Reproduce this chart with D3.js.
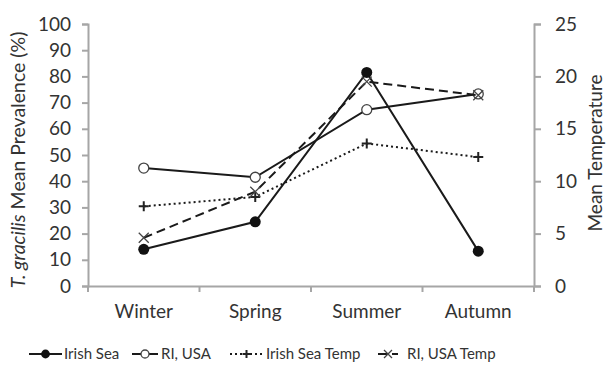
<!DOCTYPE html>
<html>
<head>
<meta charset="utf-8">
<script src="https://cdn.jsdelivr.net/npm/d3@7"></script>
<style>
  body { margin: 0; background: #fff; }
  svg text { font-family: Lato, "Open Sans", sans-serif; fill: #333; }
</style>
</head>
<body>
<svg id="chart" width="606" height="365"></svg>
<script>
// chart data
var seasons = ["Winter", "Spring", "Summer", "Autumn"];
var irishSea = [14, 24.5, 81.5, 13.3];
var riUsa = [45, 41.5, 67.3, 73.3];
var irishSeaTemp = [7.6, 8.5, 13.6, 12.3];
var riUsaTemp = [4.6, 9, 19.5, 18.2];
var leftTicks = [0, 10, 20, 30, 40, 50, 60, 70, 80, 90, 100];
var rightTicks = [0, 5, 10, 15, 20, 25];

var chart = function () {
    var svg = d3.select("#chart");
    var m = {left: 88, right: 534, top: 24, bottom: 286};
    var axisColor = "#a6a6a6";

    var x = d3.scaleBand().domain(seasons).range([m.left, m.right]);
    var yL = d3.scaleLinear().domain([0, 100]).range([m.bottom, m.top]);
    var yR = d3.scaleLinear().domain([0, 25]).range([m.bottom, m.top]);

    // axes
    var axL = svg.append("g").attr("transform", "translate(" + m.left + ",0)")
        .call(d3.axisLeft(yL).tickValues(leftTicks).tickSize(6).tickPadding(11));
    var axR = svg.append("g").attr("transform", "translate(" + m.right + ",0)")
        .call(d3.axisRight(yR).tickValues(rightTicks).tickSize(7).tickPadding(14));
    var axB = svg.append("g").attr("transform", "translate(0," + m.bottom + ")")
        .call(d3.axisBottom(x).tickSize(0).tickPadding(19));

    [axL, axR, axB].forEach(function (a) {
        a.select(".domain").attr("stroke", axisColor).attr("stroke-width", 2);
        a.selectAll(".tick line").attr("stroke", axisColor).attr("stroke-width", 2);
        a.selectAll("text").style("font-size", "19px").attr("fill", "#3a3a3a");
    });

    // category boundary ticks on x axis
    var bounds = seasons.map(function (s) { return x(s); }).concat([m.right]);
    svg.append("g").selectAll("line").data(bounds).enter().append("line")
        .attr("x1", function (d) { return d; })
        .attr("x2", function (d) { return d; })
        .attr("y1", m.bottom)
        .attr("y2", m.bottom + 6)
        .attr("stroke", axisColor)
        .attr("stroke-width", 2);

    // axis titles
    var lt = svg.append("text")
        .attr("transform", "translate(25,160) rotate(-90)")
        .attr("text-anchor", "middle")
        .style("font-size", "19.5px");
    lt.append("tspan").style("font-style", "italic").text("T. gracilis");
    lt.append("tspan").text(" Mean Prevalence (%)");

    svg.append("text")
        .attr("transform", "translate(602,153) rotate(-90)")
        .attr("text-anchor", "middle")
        .style("font-size", "19px")
        .text("Mean Temperature");

    var cx = function (d, i) { return x(seasons[i]) + x.bandwidth() / 2; };

    var series = [
        {name: "Irish Sea", values: irishSea, y: yL, dash: null, marker: "filled"},
        {name: "RI, USA", values: riUsa, y: yL, dash: null, marker: "open"},
        {name: "Irish Sea Temp", values: irishSeaTemp, y: yR, dash: "2,3", marker: "plus"},
        {name: "RI, USA Temp", values: riUsaTemp, y: yR, dash: "9,5", marker: "cross"}
    ];

    function drawMarker(g, type, px, py, k) {
        k = k || 1;
        if (type == "filled") {
            g.append("circle").attr("cx", px).attr("cy", py).attr("r", 5.5 * k).attr("fill", "#111");
        } else if (type == "open") {
            g.append("circle").attr("cx", px).attr("cy", py).attr("r", 5 * k)
                .attr("fill", "#fff").attr("stroke", "#444").attr("stroke-width", 1.3);
        } else if (type == "plus") {
            g.append("path").attr("d", "M" + (px - 5 * k) + "," + py + "h" + 10 * k + "M" + px + "," + (py - 5 * k) + "v" + 10 * k)
                .attr("stroke", "#222").attr("stroke-width", 2);
        } else {
            g.append("path").attr("d", "M" + (px - 5 * k) + "," + (py - 5 * k) + "l" + 10 * k + "," + 10 * k +
                    "M" + (px - 5 * k) + "," + (py + 5 * k) + "l" + 10 * k + "," + (-10 * k))
                .attr("stroke", "#444").attr("stroke-width", 1.3);
        }
    }

    series.forEach(function (s) {
        var line = d3.line().x(cx).y(function (d) { return s.y(d); });
        svg.append("path")
            .datum(s.values)
            .attr("d", line)
            .attr("fill", "none")
            .attr("stroke", "#1a1a1a")
            .attr("stroke-width", 2)
            .attr("stroke-dasharray", s.dash);
        var g = svg.append("g");
        s.values.forEach(function (d, i) { drawMarker(g, s.marker, cx(d, i), s.y(d)); });
    });

    // legend: line start, line length, text start
    var legendPos = [[29, 33, 64], [132, 26, 161], [230, 33, 266], [378, 20, 407]];
    var legend = svg.append("g").attr("transform", "translate(0,354)");
    series.forEach(function (s, i) {
        var p = legendPos[i];
        var g = legend.append("g");
        g.append("line").attr("x1", p[0]).attr("x2", p[0] + p[1]).attr("y1", 0).attr("y2", 0)
            .attr("stroke", "#1a1a1a").attr("stroke-width", 2)
            .attr("stroke-dasharray", s.dash);
        drawMarker(g, s.marker, p[0] + p[1] / 2, 0, 0.8);
        g.append("text").attr("x", p[2]).attr("y", 5).style("font-size", "15px").text(s.name);
    });
}();
</script>
</body>
</html>
